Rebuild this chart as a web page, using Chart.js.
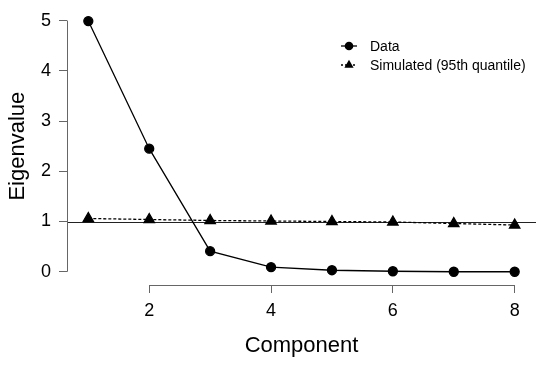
<!DOCTYPE html>
<html>
<head>
<meta charset="utf-8">
<script src="https://cdn.jsdelivr.net/npm/chart.js@4"></script>
<style>
  html, body { margin: 0; padding: 0; background: #fff; }
  #wrap { width: 550px; height: 368px; }
</style>
</head>
<body>
<div id="wrap"><canvas id="scree"></canvas></div>
<script>
// values
const components = [1, 2, 3, 4, 5, 6, 7, 8];
const observed = [4.99, 2.45, 0.41, 0.09, 0.03, 0.01, 0.00, 0.00];
const simulated = [1.06, 1.04, 1.02, 1.01, 1.00, 0.99, 0.96, 0.93];
const xTicks = [2, 4, 6, 8];
const yTicks = [0, 1, 2, 3, 4, 5];
const refLine = 1;
const legendLabels = ['Data', 'Simulated (95th quantile)'];

const FONT = '"Liberation Sans", Arial, sans-serif';
const axisGray = '#666';

// R style axes: line only across the tick range, plus the abline at 1
const rAxes = {
    id: 'rAxes',
    beforeDatasetsDraw(chart) {
        const { ctx, chartArea, scales } = chart;
        const y = Math.round(scales.y.getPixelForValue(refLine)) + 0.5;
        ctx.save();
        ctx.strokeStyle = '#222';
        ctx.lineWidth = 1.2;
        ctx.beginPath();
        ctx.moveTo(chartArea.left, y);
        ctx.lineTo(chartArea.right, y);
        ctx.stroke();
        ctx.restore();
    },
    afterDraw(chart) {
        const { ctx, chartArea, scales } = chart;
        ctx.save();
        ctx.strokeStyle = axisGray;
        ctx.lineWidth = 1;
        const ax = Math.round(chartArea.left) + 0.5;
        ctx.beginPath();
        ctx.moveTo(ax, scales.y.getPixelForValue(yTicks[0]));
        ctx.lineTo(ax, scales.y.getPixelForValue(yTicks[yTicks.length - 1]));
        const ay = Math.round(chartArea.bottom) + 0.5;
        ctx.moveTo(scales.x.getPixelForValue(xTicks[0]), ay);
        ctx.lineTo(scales.x.getPixelForValue(xTicks[xTicks.length - 1]), ay);
        ctx.stroke();

        // legend, top right
        const lx = 349, rows = [46, 65];
        ctx.font = '14px ' + FONT;
        ctx.fillStyle = '#000';
        ctx.strokeStyle = '#000';
        ctx.textBaseline = 'middle';
        rows.forEach((ry, i) => {
            ctx.lineWidth = 1.3;
            ctx.setLineDash(i === 0 ? [] : [2, 2]);
            ctx.beginPath();
            ctx.moveTo(lx - 8, ry);
            ctx.lineTo(lx + 8, ry);
            ctx.stroke();
            ctx.setLineDash([]);
            ctx.beginPath();
            if (i === 0) {
                ctx.arc(lx, ry, 4.3, 0, Math.PI * 2);
            } else {
                ctx.moveTo(lx, ry - 5.3);
                ctx.lineTo(lx + 4.6, ry + 2.7);
                ctx.lineTo(lx - 4.6, ry + 2.7);
                ctx.closePath();
            }
            ctx.fill();
            ctx.fillText(legendLabels[i], 370, ry + 1);
        });
        ctx.restore();
    }
};

new Chart(document.getElementById('scree'), {
    type: 'line',
    data: {
        datasets: [
            {
                label: legendLabels[0],
                data: components.map((c, i) => ({ x: c, y: observed[i] })),
                borderColor: '#000',
                backgroundColor: '#000',
                borderWidth: 1.3,
                pointStyle: 'circle',
                pointRadius: 4.5,
                tension: 0
            },
            {
                label: legendLabels[1],
                data: components.map((c, i) => ({ x: c, y: simulated[i] })),
                borderColor: '#000',
                backgroundColor: '#000',
                borderWidth: 1.3,
                borderDash: [3, 2],
                pointStyle: 'triangle',
                pointRadius: 6,
                tension: 0
            }
        ]
    },
    options: {
        responsive: true,
        maintainAspectRatio: false,
        animation: false,
        layout: { padding: { top: 7, right: 14, left: 0, bottom: 0 } },
        plugins: {
            legend: { display: false },
            tooltip: { enabled: false }
        },
        scales: {
            x: {
                type: 'linear',
                min: 0.65,
                max: 8.35,
                afterBuildTicks: s => { s.ticks = xTicks.map(v => ({ value: v })); },
                afterFit: s => { s.height = 83; s.paddingLeft = 0; s.paddingRight = 0; },
                grid: { display: true, drawOnChartArea: false, drawTicks: true, tickLength: 8, color: axisGray },
                border: { display: false },
                ticks: { color: '#000', font: { family: FONT, size: 18 }, padding: 7, maxRotation: 0 },
                title: { display: true, text: 'Component', color: '#000', font: { family: FONT, size: 22 }, padding: { top: 9, bottom: 9 } }
            },
            y: {
                min: -0.264,
                max: 5.264,
                afterBuildTicks: s => { s.ticks = yTicks.map(v => ({ value: v })); },
                afterFit: s => { s.width = 67; s.paddingTop = 0; s.paddingBottom = 0; },
                grid: { display: true, drawOnChartArea: false, drawTicks: true, tickLength: 8, color: axisGray },
                border: { display: false },
                ticks: { color: '#000', font: { family: FONT, size: 18 }, padding: 8 },
                title: { display: true, text: 'Eigenvalue', color: '#000', font: { family: FONT, size: 22 }, padding: { top: 5, bottom: 5 } }
            }
        }
    },
    plugins: [rAxes]
});
</script>
</body>
</html>
